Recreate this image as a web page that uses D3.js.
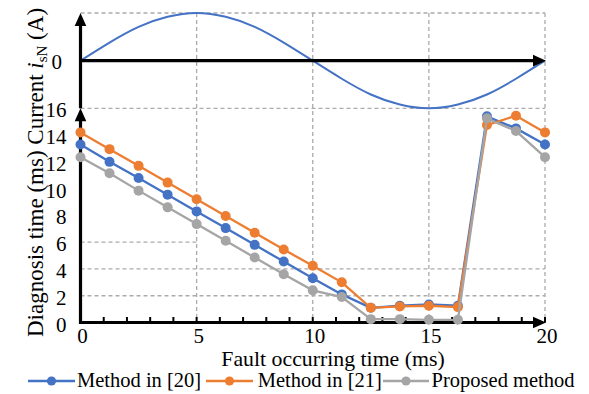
<!DOCTYPE html>
<html>
<head>
<meta charset="utf-8">
<script src="https://cdn.jsdelivr.net/npm/d3@7"></script>
<style>
  html, body { margin: 0; padding: 0; background: #fff; }
  svg { display: block; }
  svg text { font-family: "Liberation Serif", "Times New Roman", Times, serif; }
</style>
</head>
<body>
<svg id="chart" width="589" height="394"></svg>
<script>
// Fault occurring instants (ms) over one current period
const faultTimes = [0, 1.25, 2.5, 3.75, 5, 6.25, 7.5, 8.75, 10, 11.25, 12.5, 13.75, 15, 16.25, 17.5, 18.75, 20];

// Diagnosis time (ms) for each method
const method20 = [13.3, 12.0, 10.8, 9.55, 8.3, 7.05, 5.8, 4.55, 3.3, 2.1, 1.1, 1.25, 1.35, 1.25, 15.4, 14.5, 13.3];
const method21 = [14.2, 12.95, 11.7, 10.45, 9.2, 7.95, 6.7, 5.45, 4.24, 3.0, 1.1, 1.2, 1.25, 1.15, 14.75, 15.45, 14.2];
const proposed = [12.35, 11.15, 9.85, 8.6, 7.35, 6.1, 4.85, 3.6, 2.4, 1.9, 0.25, 0.25, 0.2, 0.2, 15.25, 14.3, 12.35];

// Normalised phase current i_sN sampled at the same instants
const currentValues = [0, 0.38, 0.71, 0.92, 1, 0.92, 0.71, 0.38, 0, -0.38, -0.71, -0.92, -1, -0.92, -0.71, -0.38, 0];

const xTicksMajor = [0, 5, 10, 15, 20];
const xTicksMinor = d3.range(0, 21, 1);
const yTicksLower = [0, 2, 4, 6, 8, 10, 12, 14, 16];

const seriesNames = ["Method in [20]", "Method in [21]", "Proposed method"];
const seriesColors = ["#4472C4", "#ED7D31", "#A5A5A5"];

const FONT = "Liberation Serif, Times New Roman, serif";
const svg = d3.select("#chart").attr("font-family", FONT);

const x = d3.scaleLinear().domain([0, 20]).range([80.5, 545]);
const yLow = d3.scaleLinear().domain([0, 16]).range([322.5, 108.3]);
const yUp = d3.scaleLinear().domain([-1, 1]).range([108.3, 13]);

const gridColor = "#ABABAB";
const grid = svg.append("g")
  .attr("stroke", gridColor)
  .attr("stroke-width", 1.3)
  .attr("stroke-dasharray", "4,3")
  .attr("fill", "none");

// vertical guides across both panels
[5, 10, 15, 20].forEach(v => {
  grid.append("line")
    .attr("x1", x(v)).attr("x2", x(v))
    .attr("y1", yUp(1)).attr("y2", yLow(0));
});
// upper panel bounds
grid.append("line").attr("x1", x(0)).attr("x2", x(20)).attr("y1", yUp(1)).attr("y2", yUp(1));
grid.append("line").attr("x1", x(0)).attr("x2", x(20)).attr("y1", yLow(16)).attr("y2", yLow(16));
// lower panel guides
[2, 4].forEach(v => {
  grid.append("line").attr("x1", x(0)).attr("x2", x(20)).attr("y1", yLow(v)).attr("y2", yLow(v));
});
grid.append("line").attr("x1", x(0)).attr("x2", x(5)).attr("y1", yLow(6)).attr("y2", yLow(6));

// current waveform
const currentLine = d3.line()
  .x((d, i) => x(faultTimes[i]))
  .y(d => yUp(d))
  .curve(d3.curveNatural);
svg.append("path")
  .datum(currentValues)
  .attr("d", currentLine)
  .attr("fill", "none")
  .attr("stroke", "#4472C4")
  .attr("stroke-width", 2);

// axes with arrowheads
const axisG = svg.append("g");
function arrowLine(x1, y1, x2, y2) {
  axisG.append("line")
    .attr("x1", x1).attr("y1", y1).attr("x2", x2).attr("y2", y2)
    .attr("stroke", "#000").attr("stroke-width", 3.2);
}
function arrowHead(tipX, tipY, dir) {
  const L = 13, W = 5.8;
  let pts;
  if (dir === "up") pts = [[tipX, tipY], [tipX - W, tipY + L], [tipX + W, tipY + L]];
  else pts = [[tipX, tipY], [tipX - L, tipY - W], [tipX - L, tipY + W]];
  axisG.append("polygon").attr("points", pts.map(p => p.join(",")).join(" ")).attr("fill", "#000");
}
// lower x axis ticks
xTicksMinor.forEach(v => {
  axisG.append("line")
    .attr("x1", x(v)).attr("x2", x(v))
    .attr("y1", yLow(0)).attr("y2", yLow(0) - 5.5)
    .attr("stroke", "#000").attr("stroke-width", 2);
});
arrowLine(x(0), yLow(0), x(20) - 8, yLow(0));
arrowHead(x(20) + 1, yLow(0), "right");
arrowLine(x(0), yUp(0), x(20) - 8, yUp(0));
arrowHead(x(20) + 1, yUp(0), "right");
arrowLine(x(0), yLow(0) + 1.6, x(0), yLow(16) + 8);
arrowHead(x(0), yLow(16), "up");
arrowLine(x(0), yLow(16), x(0), yUp(1) + 8);
arrowHead(x(0), yUp(1), "up");

// diagnosis-time series
const seriesData = [method20, method21, proposed];
seriesData.forEach((vals, k) => {
  const g = svg.append("g");
  const line = d3.line().x((d, i) => x(faultTimes[i])).y(d => yLow(d));
  g.append("path")
    .datum(vals)
    .attr("d", line)
    .attr("fill", "none")
    .attr("stroke", seriesColors[k])
    .attr("stroke-width", 2.3);
  g.selectAll("circle")
    .data(vals)
    .join("circle")
    .attr("cx", (d, i) => x(faultTimes[i]))
    .attr("cy", d => yLow(d))
    .attr("r", 5)
    .attr("fill", seriesColors[k]);
});

// tick labels
const labels = svg.append("g").attr("fill", "#000").attr("font-family", FONT);
xTicksMajor.forEach(v => {
  labels.append("text")
    .attr("x", x(v) + 2).attr("y", 342.5)
    .attr("text-anchor", "middle")
    .attr("font-size", 21)
    .text(v);
});
yTicksLower.forEach(v => {
  labels.append("text")
    .attr("x", 66.5).attr("y", yLow(v) + 9)
    .attr("text-anchor", "end")
    .attr("font-size", 21)
    .text(v);
});
labels.append("text")
  .attr("x", 62).attr("y", yUp(0) + 8)
  .attr("text-anchor", "end")
  .attr("font-size", 21)
  .text("0");

// axis titles
labels.append("text")
  .attr("x", 333).attr("y", 365.5)
  .attr("text-anchor", "middle")
  .attr("font-size", 21.8)
  .text("Fault occurring time (ms)");

const yTitle = labels.append("text")
  .attr("transform", "translate(43,337) rotate(-90)")
  .attr("text-anchor", "start")
  .attr("font-size", 23);
yTitle.append("tspan").text("Diagnosis time (ms)  Current ");
yTitle.append("tspan").attr("font-style", "italic").text("i");
yTitle.append("tspan").attr("font-size", 15).attr("dy", 4).text("sN");
yTitle.append("tspan").attr("dy", -4).text(" (A)");

// legend
const legendItems = [
  { x1: 28, x2: 75, tx: 77 },
  { x1: 206, x2: 253, tx: 257.7 },
  { x1: 383, x2: 429, tx: 431.6 }
];
const legend = svg.append("g").attr("font-family", FONT);
legendItems.forEach((it, k) => {
  legend.append("line")
    .attr("x1", it.x1).attr("x2", it.x2)
    .attr("y1", 381).attr("y2", 381)
    .attr("stroke", seriesColors[k]).attr("stroke-width", 2.3);
  legend.append("circle")
    .attr("cx", (it.x1 + it.x2) / 2).attr("cy", 381).attr("r", 4.6)
    .attr("fill", seriesColors[k]);
  legend.append("text")
    .attr("x", it.tx).attr("y", 387)
    .attr("font-size", 20.5)
    .text(seriesNames[k]);
});
</script>
</body>
</html>
